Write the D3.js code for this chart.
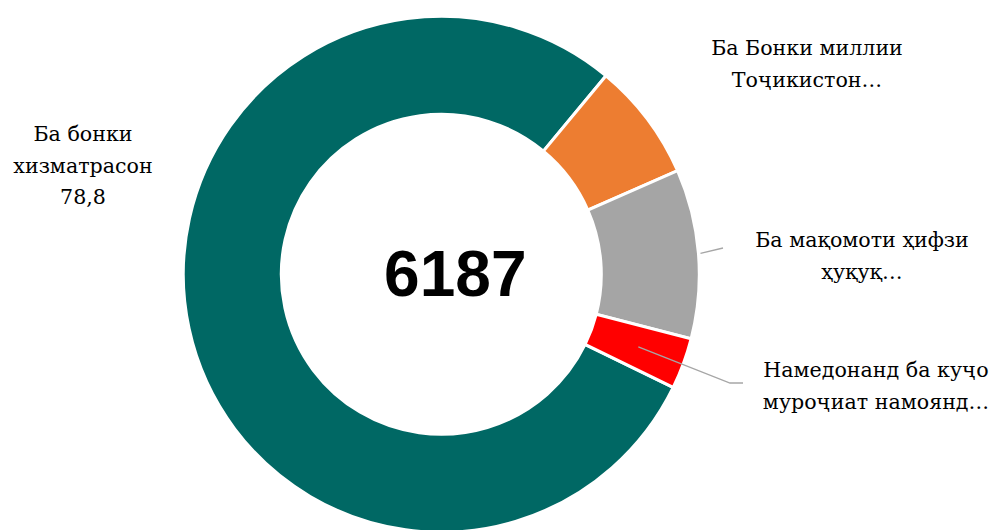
<!DOCTYPE html>
<html>
<head>
<meta charset="utf-8">
<script src="https://cdn.jsdelivr.net/npm/d3@7"></script>
<style>
  html, body { margin: 0; padding: 0; background: #fff; }
  svg { display: block; }
</style>
</head>
<body>
<svg id="chart" width="993" height="530"></svg>
<script>
// ---- data ----
const categories = [
  "Ба бонки хизматрасон",
  "Ба Бонки миллии Тоҷикистон",
  "Ба мақомоти ҳифзи ҳуқуқ",
  "Намедонанд ба куҷо муроҷиат намоянд"
];
const values = [78.8, 7.4, 10.6, 3.2];
const labelLines = [
  ["Ба бонки", "хизматрасон", "78,8"],
  ["Ба Бонки миллии", "Тоҷикистон…"],
  ["Ба мақомоти ҳифзи", "ҳуқуқ…"],
  ["Намедонанд ба куҷо", "муроҷиат намоянд…"]
];
const total = 6187;
const colors = ["#006864", "#ED7D31", "#A5A5A5", "#FF0000"];

// ---- layout ----
const svg = d3.select("#chart");
const cx = 441.3, cy = 274.3;
const outerR = 258, innerR = 160;
const startDeg = 116;

const pie = d3.pie().sort(null).value(d => d)
  .startAngle(startDeg * Math.PI / 180)
  .endAngle(startDeg * Math.PI / 180 + 2 * Math.PI);
const arcs = pie(values);
const arc = d3.arc().innerRadius(innerR).outerRadius(outerR);

const g = svg.append("g").attr("transform", `translate(${cx},${cy})`);
g.selectAll("path.slice").data(arcs).join("path")
  .attr("class", "slice")
  .attr("d", arc)
  .attr("fill", (d, i) => colors[i])
  .attr("stroke", "#fff")
  .attr("stroke-width", 3)
  .attr("stroke-linejoin", "miter");

// center total
g.append("text")
  .attr("x", 14).attr("y", 22)
  .attr("text-anchor", "middle")
  .attr("font-family", "'Liberation Sans', Arial, sans-serif")
  .attr("font-weight", "bold")
  .attr("font-size", 64)
  .attr("fill", "#000")
  .text(total);

// label placement (absolute, page coordinates)
const labelPos = [
  {x: 83, y: 141},
  {x: 807, y: 55},
  {x: 862, y: 247},
  {x: 876, y: 377}
];
const lineH = 31.5;

labelLines.forEach((lines, i) => {
  const t = svg.append("text")
    .attr("text-anchor", "middle")
    .attr("font-family", "'DejaVu Serif', serif")
    .attr("font-size", 20.6)
    .attr("fill", "#000");
  lines.forEach((ln, j) => {
    t.append("tspan").attr("x", labelPos[i].x).attr("y", labelPos[i].y + j * lineH).text(ln);
  });
});

// leader lines
function polar(a, r) { return [cx + r * Math.sin(a), cy - r * Math.cos(a)]; }
const mid = d => (d.startAngle + d.endAngle) / 2;
const leader = d3.line();
// gray slice
{
  const d = arcs[2];
  const p0 = polar(mid(d), outerR + 2);
  const pts = [p0, [723, 248]];
  svg.append("path").attr("d", leader(pts)).attr("fill", "none")
    .attr("stroke", "#A6A6A6").attr("stroke-width", 1.3);
}
// red slice
{
  const d = arcs[3];
  const p0 = polar(mid(d), 210);
  const pts = [p0, [730, 383], [743, 383]];
  svg.append("path").attr("d", leader(pts)).attr("fill", "none")
    .attr("stroke", "#A6A6A6").attr("stroke-width", 1.3);
}
</script>
</body>
</html>
